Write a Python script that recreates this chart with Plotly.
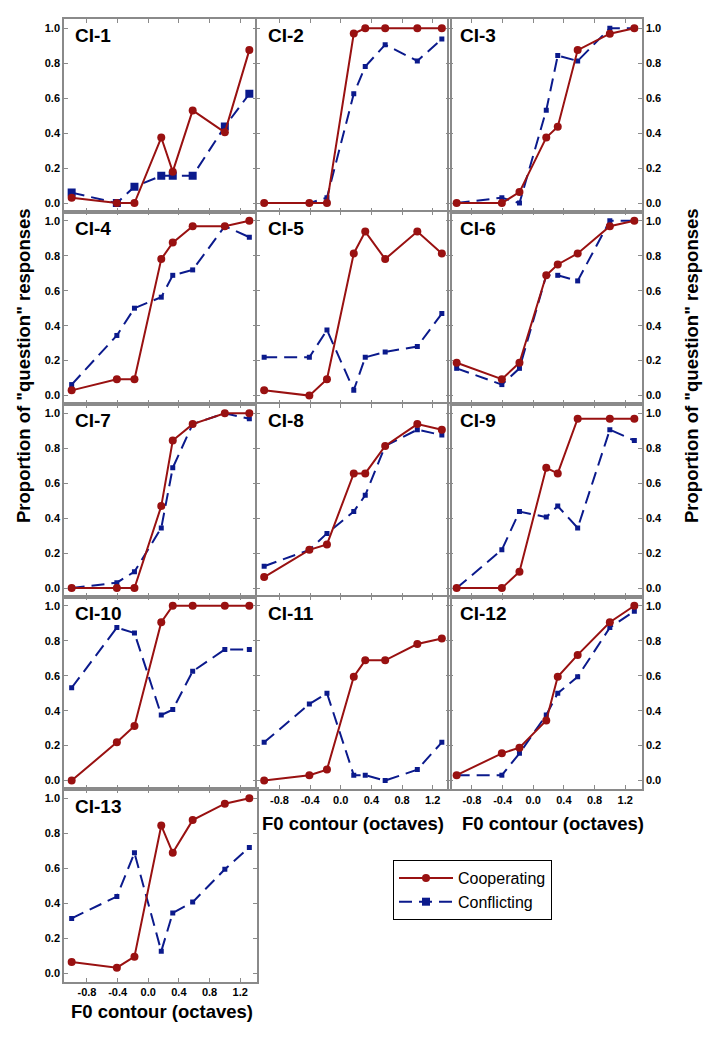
import plotly.graph_objects as go

W, H = 710, 1039

# F0 contour steps (octaves), shared by every panel
x_vals = [-1.0, -0.41, -0.18, 0.17, 0.32, 0.58, 1.0, 1.32]

panel_names = ["CI-1", "CI-2", "CI-3", "CI-4", "CI-5", "CI-6", "CI-7",
               "CI-8", "CI-9", "CI-10", "CI-11", "CI-12", "CI-13"]

# Proportion of "question" responses, Cooperating condition
coop_1 = [0.03, 0.0, 0.0, 0.375, 0.18, 0.53, 0.405, 0.875]
coop_2 = [0.0, 0.0, 0.0, 0.97, 1.0, 1.0, 1.0, 1.0]
coop_3 = [0.0, 0.0, 0.063, 0.375, 0.437, 0.875, 0.969, 1.0]
coop_4 = [0.03, 0.094, 0.094, 0.781, 0.875, 0.969, 0.969, 1.0]
coop_5 = [0.031, 0.0, 0.094, 0.813, 0.938, 0.781, 0.938, 0.813]
coop_6 = [0.188, 0.094, 0.188, 0.688, 0.75, 0.813, 0.969, 1.0]
coop_7 = [0.0, 0.0, 0.0, 0.469, 0.844, 0.938, 1.0, 1.0]
coop_8 = [0.063, 0.219, 0.25, 0.656, 0.656, 0.813, 0.938, 0.906]
coop_9 = [0.0, 0.0, 0.094, 0.688, 0.656, 0.969, 0.969, 0.969]
coop_10 = [0.0, 0.219, 0.313, 0.906, 1.0, 1.0, 1.0, 1.0]
coop_11 = [0.0, 0.031, 0.063, 0.594, 0.688, 0.688, 0.781, 0.813]
coop_12 = [0.031, 0.156, 0.188, 0.344, 0.594, 0.719, 0.906, 1.0]
coop_13 = [0.063, 0.031, 0.094, 0.844, 0.688, 0.875, 0.969, 1.0]

# Conflicting condition
conf_1 = [0.06, 0.0, 0.094, 0.156, 0.156, 0.156, 0.438, 0.625]
conf_2 = [0.0, 0.0, 0.031, 0.625, 0.781, 0.906, 0.813, 0.938]
conf_3 = [0.0, 0.031, 0.0, 0.531, 0.844, 0.813, 1.0, 1.0]
conf_4 = [0.063, 0.344, 0.5, 0.563, 0.688, 0.719, 0.969, 0.906]
conf_5 = [0.219, 0.219, 0.375, 0.031, 0.219, 0.25, 0.281, 0.469]
conf_6 = [0.156, 0.063, 0.156, 0.688, 0.688, 0.656, 1.0, 1.0]
conf_7 = [0.0, 0.031, 0.094, 0.344, 0.688, 0.938, 1.0, 0.969]
conf_8 = [0.125, 0.219, 0.313, 0.438, 0.531, 0.813, 0.906, 0.875]
conf_9 = [0.0, 0.219, 0.438, 0.406, 0.469, 0.344, 0.906, 0.844]
conf_10 = [0.531, 0.875, 0.844, 0.375, 0.406, 0.625, 0.75, 0.75]
conf_11 = [0.219, 0.438, 0.5, 0.031, 0.031, 0.0, 0.063, 0.219]
conf_12 = [0.031, 0.031, 0.156, 0.375, 0.5, 0.594, 0.875, 0.969]
conf_13 = [0.313, 0.438, 0.688, 0.125, 0.344, 0.406, 0.594, 0.719]

cooperating = [coop_1, coop_2, coop_3, coop_4, coop_5, coop_6, coop_7,
               coop_8, coop_9, coop_10, coop_11, coop_12, coop_13]
conflicting = [conf_1, conf_2, conf_3, conf_4, conf_5, conf_6, conf_7,
               conf_8, conf_9, conf_10, conf_11, conf_12, conf_13]

x_tick_vals = [-0.8, -0.4, 0.0, 0.4, 0.8, 1.2]
x_tick_text = ["-0.8", "-0.4", "0.0", "0.4", "0.8", "1.2"]
y_tick_vals = [0.0, 0.2, 0.4, 0.6, 0.8, 1.0]
y_tick_text = ["0.0", "0.2", "0.4", "0.6", "0.8", "1.0"]

FONT = "Liberation Sans, Arial, Helvetica, sans-serif"
RED = "#991111"
BLUE = "#0b1a8c"
FRAME = "#8a8a8a"

col_left = [64, 256.5, 449]
col_w = 193
row_top = [19, 211.5, 404, 596.5, 789]
row_h = 192.5

fig = go.Figure()
layout = dict(
    width=W, height=H,
    margin=dict(l=0, r=0, t=0, b=0),
    paper_bgcolor="white", plot_bgcolor="white",
    font=dict(family=FONT, color="black"),
    showlegend=True,
)
annotations = []

for i, name in enumerate(panel_names):
    r, c = divmod(i, 3)
    k = "" if i == 0 else str(i + 1)
    xl = col_left[c]
    yt = row_top[r]
    layout["xaxis" + k] = dict(
        domain=[xl / W, (xl + col_w) / W],
        range=[-1.10, 1.42], anchor="y" + k,
        showline=True, linecolor=FRAME, linewidth=1.5, mirror="ticks",
        ticks="inside", ticklen=4, tickwidth=1, tickcolor=FRAME,
        tickvals=x_tick_vals, ticktext=x_tick_text,
        showticklabels=(i in (10, 11, 12)),
        tickfont=dict(size=11, family=FONT, color="black", weight="bold"),
        showgrid=False, zeroline=False, fixedrange=True,
    )
    layout["yaxis" + k] = dict(
        domain=[1 - (yt + row_h) / H, 1 - yt / H],
        range=[-0.048, 1.053], anchor="x" + k,
        side="right" if c == 2 else "left",
        showline=True, linecolor=FRAME, linewidth=1.5, mirror="ticks",
        ticks="inside", ticklen=4, tickwidth=1, tickcolor=FRAME,
        tickvals=y_tick_vals, ticktext=y_tick_text,
        showticklabels=(c != 1),
        tickfont=dict(size=11, family=FONT, color="black", weight="bold"),
        showgrid=False, zeroline=False, fixedrange=True,
    )
    sq = 8 if i == 0 else 5
    fig.add_trace(go.Scatter(
        x=x_vals, y=conflicting[i], xaxis="x" + k, yaxis="y" + k,
        mode="lines+markers", name="Conflicting", legendrank=2,
        showlegend=(i == 0),
        line=dict(color=BLUE, width=2, dash="13px,7px"),
        marker=dict(symbol="square", size=sq, color=BLUE),
    ))
    fig.add_trace(go.Scatter(
        x=x_vals, y=cooperating[i], xaxis="x" + k, yaxis="y" + k,
        mode="lines+markers", name="Cooperating", legendrank=1,
        showlegend=(i == 0),
        line=dict(color=RED, width=2),
        marker=dict(symbol="circle", size=8, color=RED),
    ))
    annotations.append(dict(
        text="<b>" + name + "</b>", xref="paper", yref="paper",
        x=(xl + 9) / W, y=1 - (yt + 17) / H, xanchor="left", yanchor="middle",
        showarrow=False, font=dict(size=19, family=FONT, color="black"),
    ))

ytitle = 'Proportion of "question" responses'
for xc in (23, 691):
    annotations.append(dict(
        text="<b>" + ytitle + "</b>", xref="paper", yref="paper",
        x=xc / W, y=1 - 366 / H, xanchor="center", yanchor="middle",
        textangle=-90, showarrow=False,
        font=dict(size=18.5, family=FONT, color="black"),
    ))

xtitle = "F0 contour (octaves)"
for xc, yc in ((162, 1011), (353, 823), (553, 823)):
    annotations.append(dict(
        text="<b>" + xtitle + "</b>", xref="paper", yref="paper",
        x=xc / W, y=1 - yc / H, xanchor="center", yanchor="middle",
        showarrow=False, font=dict(size=18.5, family=FONT, color="black"),
    ))

layout["annotations"] = annotations
layout["legend"] = dict(
    x=393 / W, y=1 - 860 / H, xanchor="left", yanchor="top",
    bordercolor="black", borderwidth=1, bgcolor="white",
    font=dict(size=16, family=FONT, color="black"),
    tracegroupgap=0, itemwidth=54,
)
fig.update_layout(**layout)
fig.write_html(
    "out.html",
    config={"displayModeBar": False},
    post_script="document.body.style.margin='0';document.body.style.overflow='hidden';",
)
